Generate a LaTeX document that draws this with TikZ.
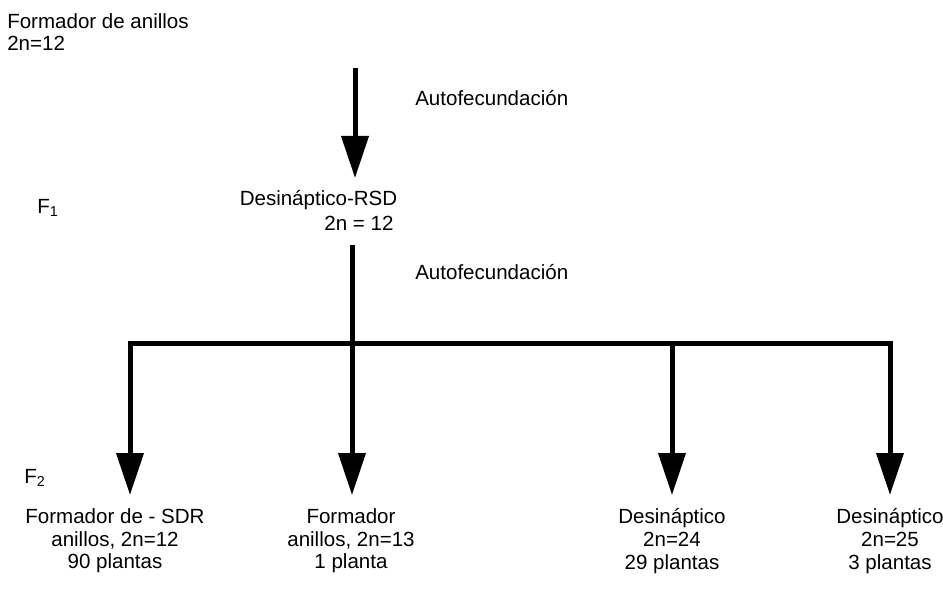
\documentclass[tikz,border=0pt]{standalone}
\usepackage{fontspec}
\setmainfont{Liberation Sans}
\usetikzlibrary{arrows.meta}

\begin{document}
\begin{tikzpicture}[
  x=0.75pt, y=-0.75pt,
  txt/.style={inner sep=0pt,font=\fontsize{15.4pt}{17pt}\selectfont},
  res/.style={txt,align=center},
  line/.style={line width=3.75pt},
  flow/.style={line,-{Triangle[length=31.5pt,width=20pt]}}
]
\useasboundingbox (0,0) rectangle (943,592);

\node[txt,align=left,anchor=west] (parent) at (7,32) {Formador de anillos\\2n=12};
\node[txt,anchor=west] (auto1) at (415,98) {Autofecundación};
\node[txt,anchor=west] (gen1) at (37,208) {F\textsubscript{1}};
\node[txt] (rsd) at (318.5,200) {Desináptico-RSD};
\node[txt] (rsdn) at (359,223) {2n = 12};
\node[txt,anchor=west] (auto2) at (415,272) {Autofecundación};
\node[txt,anchor=west] (gen2) at (24,478) {F\textsubscript{2}};

\node[res] (sdr)  at (115,541) {Formador de - SDR\\anillos, 2n=12\\90 plantas};
\node[res] (ring) at (351,541) {Formador\\anillos, 2n=13\\1 planta};
\node[res] (des24) at (672,541) {Desináptico\\2n=24\\29 plantas};
\node[res] (des25) at (890,541) {Desináptico\\2n=25\\3 plantas};

\coordinate (self) at (355,68);
\coordinate (tip0) at (355,178);
\coordinate (f1out) at (352,245);
\coordinate (split) at (352,343);
\coordinate (b3) at (672,343);
\coordinate (tip1) at (130,495);
\coordinate (tip2) at (352,495);
\coordinate (tip3) at (672,495);
\coordinate (tip4) at (890,495);

\draw[flow] (self) -- (tip0);
\draw[line] (f1out) -- (split);
\draw[flow] (split) -| (tip1);
\draw[flow] (split) -| (tip4);
\draw[flow] (split) -- (tip2);
\draw[flow] (b3) -- (tip3);
\end{tikzpicture}
\end{document}
